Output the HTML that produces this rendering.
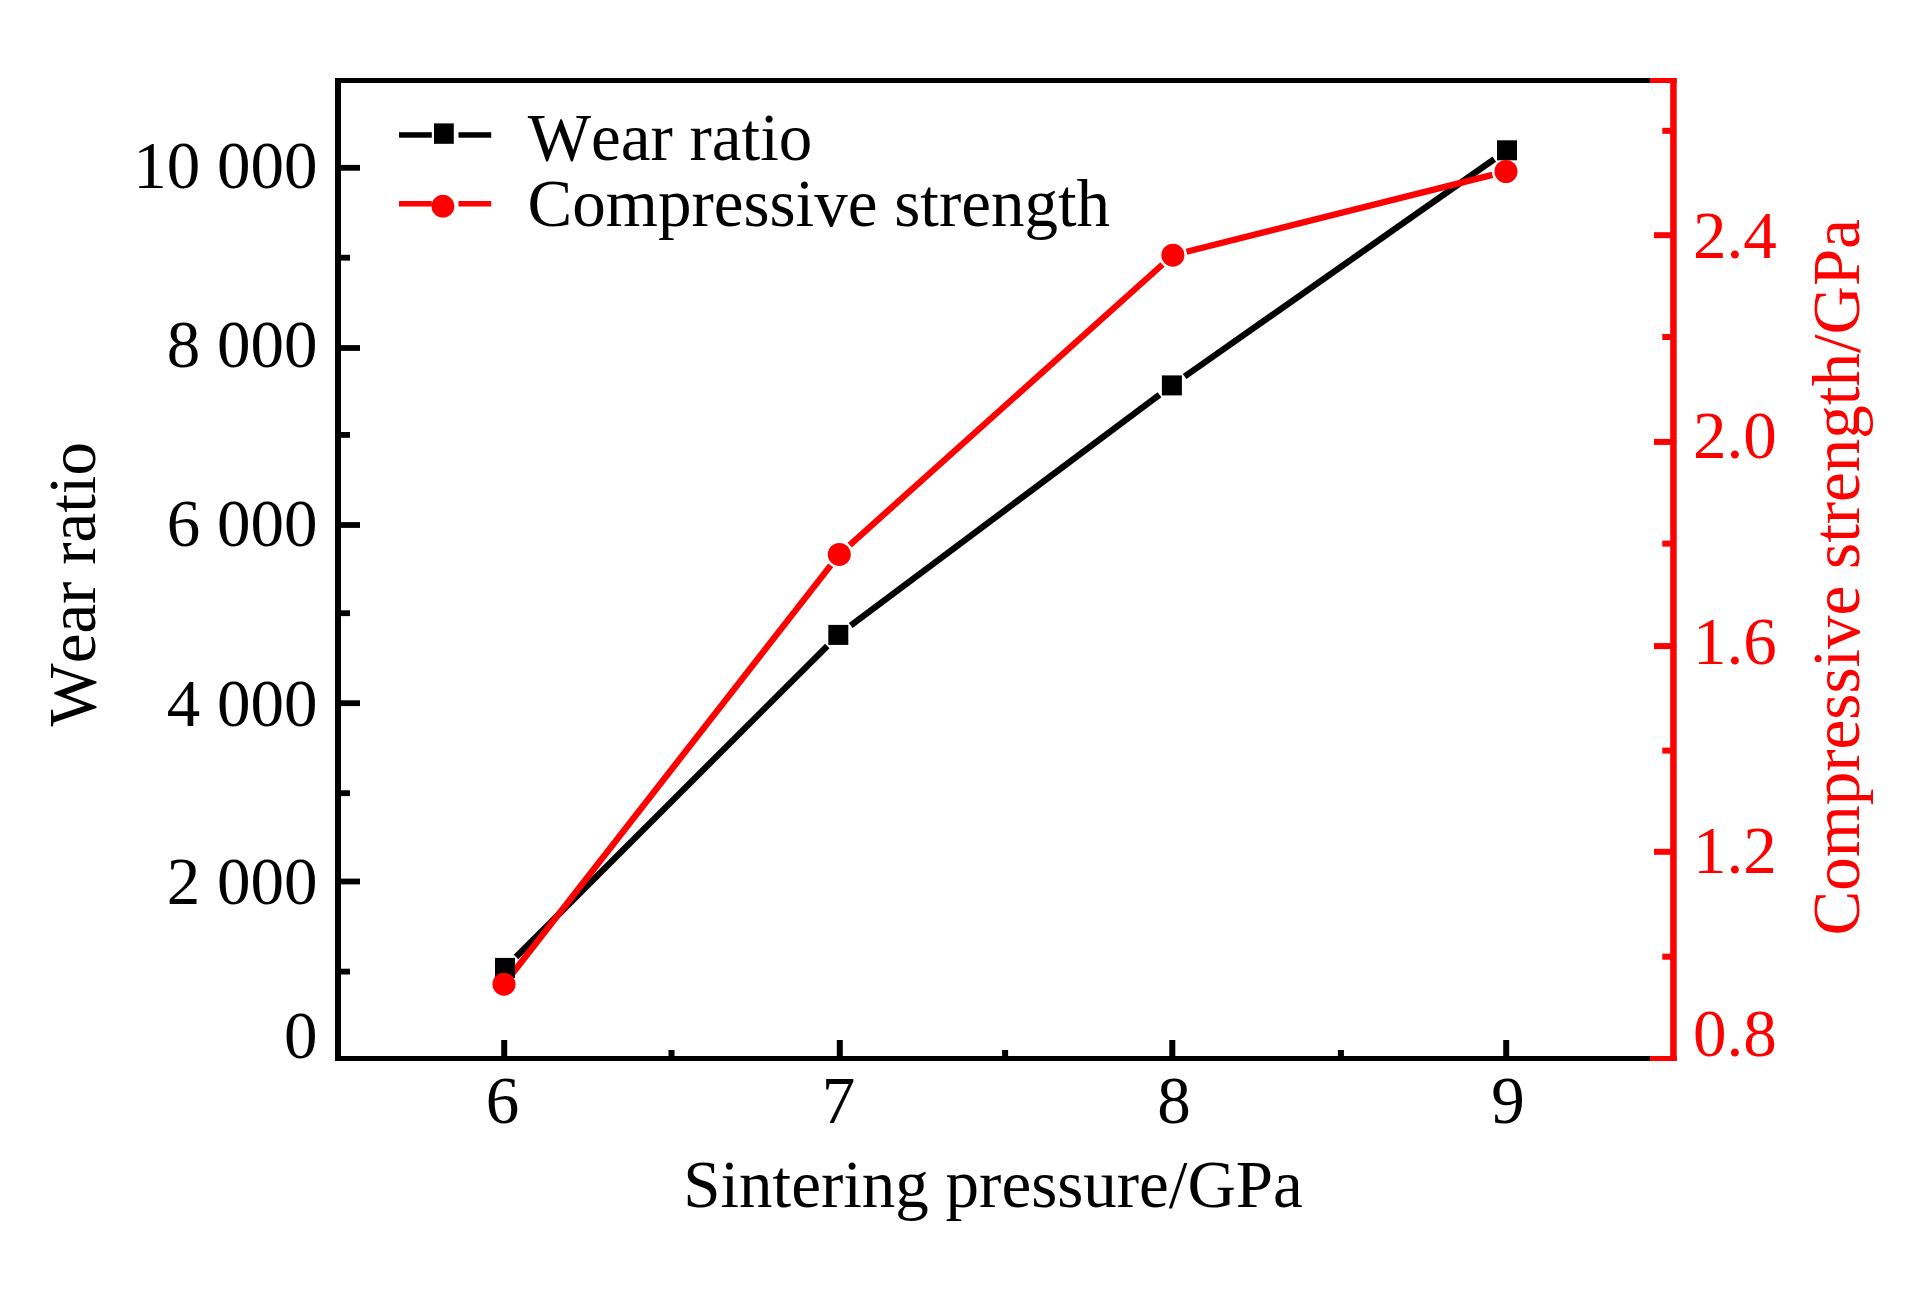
<!DOCTYPE html>
<html><head><meta charset="utf-8"><style>
html,body{margin:0;padding:0;background:#fff;}
body{width:1923px;height:1299px;overflow:hidden;}
svg{display:block;}
text{font-family:"Liberation Serif", serif;font-size:67px;font-kerning:none;}
</style></head><body>
<svg width="1923" height="1299" viewBox="0 0 1923 1299">
<rect width="1923" height="1299" fill="#fff"/>
<rect x="335" y="78" width="6" height="983" fill="#000"/>
<rect x="335" y="78" width="1315" height="5" fill="#000"/>
<rect x="335" y="1056" width="1315" height="5" fill="#000"/>
<rect x="1650" y="78" width="26.7" height="5" fill="#ff0000"/>
<rect x="1650" y="1056" width="26.7" height="5" fill="#ff0000"/>
<rect x="1670.2" y="78" width="6.5" height="983" fill="#ff0000"/>
<rect x="341" y="164.9" width="19" height="5.8" fill="#000"/>
<rect x="341" y="345.1" width="19" height="5.8" fill="#000"/>
<rect x="341" y="522.1" width="19" height="5.8" fill="#000"/>
<rect x="341" y="700.3" width="19" height="5.8" fill="#000"/>
<rect x="341" y="878.6" width="19" height="5.8" fill="#000"/>
<rect x="341" y="254.8" width="9" height="5.8" fill="#000"/>
<rect x="341" y="432.0" width="9" height="5.8" fill="#000"/>
<rect x="341" y="610.3" width="9" height="5.8" fill="#000"/>
<rect x="341" y="790.3" width="9" height="5.8" fill="#000"/>
<rect x="341" y="968.7" width="9" height="5.8" fill="#000"/>
<rect x="1654" y="232.2" width="17" height="6" fill="#ff0000"/>
<rect x="1654" y="438.9" width="17" height="6" fill="#ff0000"/>
<rect x="1654" y="643.1" width="17" height="6" fill="#ff0000"/>
<rect x="1654" y="848.8" width="17" height="6" fill="#ff0000"/>
<rect x="1662.3" y="127.8" width="9" height="6" fill="#ff0000"/>
<rect x="1662.3" y="334.0" width="9" height="6" fill="#ff0000"/>
<rect x="1662.3" y="540.6" width="9" height="6" fill="#ff0000"/>
<rect x="1662.3" y="747.6" width="9" height="6" fill="#ff0000"/>
<rect x="1662.3" y="953.7" width="9" height="6" fill="#ff0000"/>
<rect x="501.2" y="1040" width="6" height="17" fill="#000"/>
<rect x="836.8" y="1040" width="6" height="17" fill="#000"/>
<rect x="1169.3" y="1040" width="6" height="17" fill="#000"/>
<rect x="1503.2" y="1040" width="6" height="17" fill="#000"/>
<rect x="668.5" y="1050" width="6" height="7" fill="#000"/>
<rect x="1002.1" y="1050" width="6" height="7" fill="#000"/>
<rect x="1337.9" y="1050" width="6" height="7" fill="#000"/>
<line x1="516.0" y1="956.9" x2="827.3" y2="645.9" stroke="#000" stroke-width="6.3" stroke-linecap="butt"/>
<line x1="850.7" y1="625.6" x2="1159.5" y2="394.7" stroke="#000" stroke-width="6.3" stroke-linecap="butt"/>
<line x1="1184.6" y1="376.5" x2="1494.3" y2="159.2" stroke="#000" stroke-width="6.3" stroke-linecap="butt"/>
<line x1="512.6" y1="973.2" x2="830.7" y2="565.4" stroke="#ff0000" stroke-width="6.3" stroke-linecap="butt"/>
<line x1="849.7" y1="545.1" x2="1162.5" y2="264.5" stroke="#ff0000" stroke-width="6.3" stroke-linecap="butt"/>
<line x1="1186.5" y1="251.8" x2="1492.4" y2="174.9" stroke="#ff0000" stroke-width="6.3" stroke-linecap="butt"/>
<rect x="495.0" y="957.9" width="20" height="20" fill="#000"/>
<rect x="828.3" y="624.9" width="20" height="20" fill="#000"/>
<rect x="1161.9" y="375.4" width="20" height="20" fill="#000"/>
<rect x="1497.0" y="140.3" width="20" height="20" fill="#000"/>
<circle cx="504.0" cy="984.2" r="11.5" fill="#ff0000"/>
<circle cx="839.3" cy="554.4" r="11.5" fill="#ff0000"/>
<circle cx="1172.9" cy="255.2" r="11.5" fill="#ff0000"/>
<circle cx="1506.0" cy="171.5" r="11.5" fill="#ff0000"/>
<rect x="399" y="132.2" width="32.8" height="5.5" fill="#000"/>
<rect x="458.5" y="132.2" width="32.7" height="5.5" fill="#000"/>
<rect x="434" y="123.4" width="19.8" height="20.4" fill="#000"/>
<rect x="399" y="201" width="32.8" height="5.5" fill="#ff0000"/>
<rect x="458.5" y="201" width="32.7" height="5.5" fill="#ff0000"/>
<circle cx="442.9" cy="206.2" r="11.4" fill="#ff0000"/>
<text x="527.7" y="159.8" text-anchor="start" fill="#000" >Wear ratio</text>
<text x="527.6" y="226.4" text-anchor="start" fill="#000" >Compressive strength</text>
<text x="317.6" y="188.0" text-anchor="end" fill="#000" >10&#160;000</text>
<text x="317.6" y="367.0" text-anchor="end" fill="#000" >8&#160;000</text>
<text x="317.6" y="546.1" text-anchor="end" fill="#000" >6&#160;000</text>
<text x="317.6" y="725.7" text-anchor="end" fill="#000" >4&#160;000</text>
<text x="317.6" y="904.0" text-anchor="end" fill="#000" >2&#160;000</text>
<text x="317.6" y="1058.0" text-anchor="end" fill="#000" >0</text>
<text x="1693.0" y="258.0" text-anchor="start" fill="#ff0000" >2.4</text>
<text x="1693.0" y="458.0" text-anchor="start" fill="#ff0000" >2.0</text>
<text x="1693.0" y="664.2" text-anchor="start" fill="#ff0000" >1.6</text>
<text x="1693.0" y="873.4" text-anchor="start" fill="#ff0000" >1.2</text>
<text x="1693.0" y="1056.0" text-anchor="start" fill="#ff0000" >0.8</text>
<text x="502.4" y="1123.2" text-anchor="middle" fill="#000" >6</text>
<text x="838.5" y="1123.2" text-anchor="middle" fill="#000" >7</text>
<text x="1174.0" y="1123.2" text-anchor="middle" fill="#000" >8</text>
<text x="1507.9" y="1123.2" text-anchor="middle" fill="#000" >9</text>
<text x="683.2" y="1206.9" text-anchor="start" fill="#000" >Sintering pressure/GPa</text>
<text transform="translate(95.3,726.6) rotate(-90)" x="0" y="0" fill="#000">Wear ratio</text>
<text transform="translate(1859.3,935.5) rotate(-90)" x="0" y="0" fill="#ff0000">Compressive strength/GPa</text>
</svg>
</body></html>
